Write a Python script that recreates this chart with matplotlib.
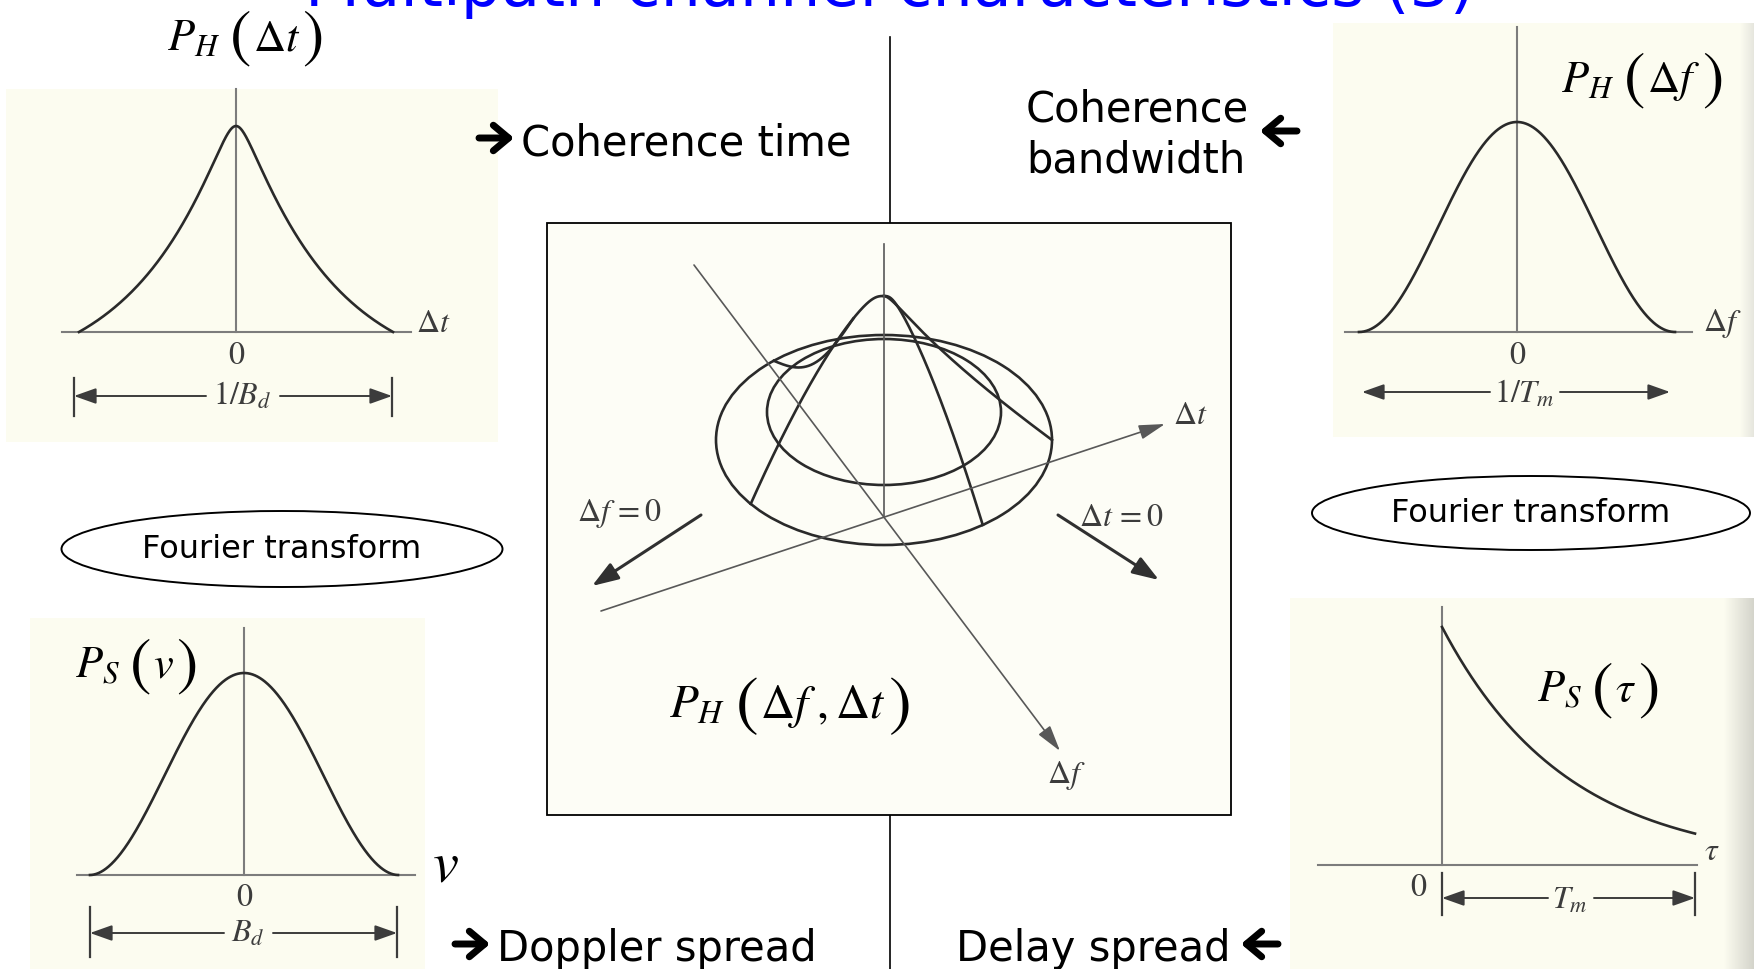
import numpy as np
import matplotlib
matplotlib.use("Agg")
import matplotlib.pyplot as plt
from matplotlib.patches import Ellipse, Rectangle
from matplotlib.colors import LinearSegmentedColormap

plt.rcParams["mathtext.fontset"] = "stix"
plt.rcParams["font.family"] = ["DejaVu Sans"]

# ---- text content ---------------------------------------------------------
TITLE = "Multipath channel characteristics (3)"
HEADINGS = ["Coherence time", "Coherence", "bandwidth", "Doppler spread", "Delay spread"]
TRANSFORM_TEXT = "Fourier transform"
SPREAD_LABELS = [r"$1/B_d$", r"$1/T_m$", r"$B_d$", r"$T_m$"]
FUNC_SUBS = ["H", "H", "S", "S", "H"]
FUNC_ARGS = [r"$\Delta t$", r"$\Delta f$", r"$v$", r"$\tau$", r"$\Delta f\;,\Delta t$"]
CENTER_LABELS = [r"$\Delta t$", r"$\Delta f$", r"$\Delta f\,=0$", r"$\Delta t\,=0$"]

# ---- curve shapes (normalised: spread edge at |x| = 1, peak value = 1) ------
time_corr_decay = 0.58      # spaced-time correlation  ~ exp(-|x| / a)
time_corr_tip = 0.07        # rounding of its peak
freq_corr_power = 2.0       # spaced-frequency correlation ~ cos(pi x / 2)^n
doppler_power = 1.9         # Doppler power spectrum ~ cos(pi x / 2)^n
delay_decay = 0.494         # power delay profile ~ exp(-x / d), x in units of T_m

# ---- scattering function sketch (pixel geometry of the 3-D view) -----------
hat_x, rim_y, rim_a, rim_b, hat_height = 884, 440, 168, 105, 144
inner_y, inner_a, inner_b = 412, 117, 73
hat_round = 0.08                          # rounding of the summit profile
summit_blend = 0.12                       # flattening of the view tilt at the summit
meridian_angles = [142.5, 54.0, 0.0]      # degrees round the rim
meridian_powers = [1.5, 1.5, 0.8]         # profile 1 - u^p

W, H = 1754, 969
fig = plt.figure(figsize=(W / 100, H / 100), dpi=100)
fig.patch.set_facecolor("white")
ax = fig.add_axes([0, 0, 1, 1])
ax.set_xlim(0, W)
ax.set_ylim(H, 0)
ax.axis("off")
renderer = fig.canvas.get_renderer()

PAPER = "#fcfcf0"
INK = "#2a2a2a"
GREY = "#7c7c7c"
SOFT = "#3c3c3c"
BLUE = "#0000ff"

# scanned page backgrounds behind the four small plots
for x0, x1, y0, y1 in [(6, 498, 89, 442), (1333, 1754, 23, 437),
                       (30, 425, 618, 969), (1290, 1754, 598, 969)]:
    ax.add_patch(Rectangle((x0, y0), x1 - x0, y1 - y0, facecolor=PAPER,
                           edgecolor="none", zorder=0))
edge = LinearSegmentedColormap.from_list("edge", [PAPER, "#d4d4cb"])
ax.imshow(np.linspace(0, 1, 64)[None, :], extent=(1724, 1754, 969, 598),
          cmap=edge, aspect="auto", zorder=0.5)
ax.imshow(np.linspace(0, 1, 64)[None, :], extent=(1740, 1754, 437, 23),
          cmap=LinearSegmentedColormap.from_list("edge2", [PAPER, "#e6e6de"]),
          aspect="auto", zorder=0.5)
ax.set_xlim(0, W)
ax.set_ylim(H, 0)

# title (runs off the top edge)
title = ax.text(305, 6, TITLE, color=BLUE, fontsize=46, va="baseline", ha="left")
tw = title.get_window_extent(renderer).width
title.set_fontsize(46 * 1168 / tw)

# divider
ax.plot([890, 890], [37, 223], color="black", lw=1.2, zorder=1)
ax.plot([890, 890], [815, 969], color="black", lw=1.2, zorder=1)


def heavy_arrow(x_tail, x_head, y):
    ax.annotate("", xy=(x_head, y), xytext=(x_tail, y),
                arrowprops=dict(arrowstyle="->,head_length=0.55,head_width=0.46",
                                color="black", lw=5.0, shrinkA=0, shrinkB=0,
                                mutation_scale=20))


heading_size = 30
ax.text(521, 155, HEADINGS[0], fontsize=heading_size, va="baseline", ha="left")
heavy_arrow(479, 514, 138)
ax.text(1026, 121, HEADINGS[1], fontsize=heading_size, va="baseline", ha="left")
ax.text(1026, 172, HEADINGS[2], fontsize=heading_size, va="baseline", ha="left")
heavy_arrow(1297, 1260, 131)
ax.text(497, 961, HEADINGS[3], fontsize=heading_size, va="baseline", ha="left")
heavy_arrow(455, 490, 944)
ax.text(956, 961, HEADINGS[4], fontsize=heading_size, va="baseline", ha="left")
heavy_arrow(1278, 1241, 944)

# Fourier transform ovals
for cx, cy, w, h in [(282, 549, 441, 76), (1531, 513, 438, 74)]:
    ax.add_patch(Ellipse((cx, cy), w, h, fill=False, edgecolor="black", lw=1.4, zorder=2))
    ax.text(cx, cy + 1, TRANSFORM_TEXT, fontsize=23, ha="center", va="center")


def panel(ox, oy, sx, sy, x_left, x_right, y_top):
    """Axes whose data origin sits at pixel (ox, oy), sx/sy pixels per unit."""
    a = fig.add_axes([x_left / W, 1 - oy / H, (x_right - x_left) / W, (oy - y_top) / H])
    a.set_xlim((x_left - ox) / sx, (x_right - ox) / sx)
    a.set_ylim(0, (oy - y_top) / sy)
    a.axis("off")
    a.plot(a.get_xlim(), [0, 0], color=GREY, lw=1.5, clip_on=False, zorder=1)
    a.plot([0, 0], a.get_ylim(), color=GREY, lw=1.5, clip_on=False, zorder=1)
    return a


x_sym = np.linspace(-1, 1, 501)

# spaced-time correlation
a_tl = panel(236, 332, 157, 206, 62, 411, 89)
r = np.sqrt(x_sym ** 2 + time_corr_tip ** 2) - time_corr_tip
r_end = np.sqrt(1 + time_corr_tip ** 2) - time_corr_tip
y_end = np.exp(-r_end / time_corr_decay)
a_tl.plot(x_sym, (np.exp(-r / time_corr_decay) - y_end) / (1 - y_end),
          color=INK, lw=1.9, clip_on=False, zorder=2)

# spaced-frequency correlation
a_tr = panel(1517, 332, 158, 210, 1345, 1692, 27)
a_tr.plot(x_sym, np.cos(np.pi * x_sym / 2) ** freq_corr_power,
          color=INK, lw=1.9, clip_on=False, zorder=2)

# Doppler power spectrum
a_bl = panel(244, 875, 154, 202, 77, 415, 628)
a_bl.plot(x_sym, np.cos(np.pi * x_sym / 2) ** doppler_power,
          color=INK, lw=1.9, clip_on=False, zorder=2)

# power delay profile
a_br = panel(1442, 865, 253, 238, 1318, 1697, 607)
x_delay = np.linspace(0, 1, 300)
a_br.plot(x_delay, np.exp(-x_delay / delay_decay), color=INK, lw=1.9,
          clip_on=False, zorder=2)


def dim_arrow(x_from, x_to, y):
    ax.annotate("", xy=(x_to, y), xytext=(x_from, y),
                arrowprops=dict(arrowstyle="-|>,head_length=0.9,head_width=0.32",
                                color=SOFT, lw=1.4, shrinkA=0, shrinkB=0,
                                mutation_scale=15))


def tick(x, y0, y1):
    ax.plot([x, x], [y0, y1], color=SOFT, lw=1.6)


small = dict(fontsize=23, color=SOFT, ha="center", va="center")

# labels of the spaced-time correlation
ax.text(236, 356, "0", family="STIXGeneral", **small)
ax.text(433, 324, CENTER_LABELS[0], **small)
ax.text(242, 396, SPREAD_LABELS[0], **small)
dim_arrow(206, 74, 396)
dim_arrow(280, 392, 396)
tick(74, 378, 416)
tick(392, 378, 416)

# labels of the spaced-frequency correlation
ax.text(1517, 356, "0", family="STIXGeneral", **small)
ax.text(1722, 324, CENTER_LABELS[1], **small)
ax.text(1524, 394, SPREAD_LABELS[1], **small)
dim_arrow(1490, 1362, 392)
dim_arrow(1560, 1670, 392)

# labels of the Doppler spectrum
ax.text(244, 898, "0", family="STIXGeneral", **small)
ax.text(248, 933, SPREAD_LABELS[2], **small)
dim_arrow(224, 90, 933)
dim_arrow(273, 397, 933)
tick(90, 907, 957)
tick(397, 907, 957)
ax.text(445, 882, r"$v$", fontsize=42, ha="center", va="baseline")

# labels of the delay profile
ax.text(1418, 888, "0", family="STIXGeneral", **small)
ax.text(1712, 852, r"$\tau$", **small)
ax.text(1570, 900, SPREAD_LABELS[3], **small)
dim_arrow(1548, 1442, 898)
dim_arrow(1594, 1695, 898)
tick(1442, 873, 915)
tick(1695, 873, 915)


def func_label(cx, baseline, sub, arg, size, paren_scale=1.45):
    """P_sub( arg ) with enlarged parentheses, centred on cx."""
    drop = 0.1 * size * 100 / 72
    parts = [(r"$P_{%s}$" % sub, size, 0.0, None, 0.0),
             ("(", size * paren_scale, 0.22, "STIXGeneral", drop),
             (arg, size, 0.04, None, 0.0),
             (")", size * paren_scale, 0.05, "STIXGeneral", drop)]
    placed, x = [], 0.0
    for s, fs, gap, fam, dy in parts:
        x += gap * size * 100 / 72
        kw = dict(fontsize=fs, va="baseline", ha="left", color="black", zorder=5)
        if fam:
            kw["family"] = fam
        t = ax.text(x, baseline + dy, s, **kw)
        placed.append(t)
        x += t.get_window_extent(renderer).width
    shift = cx - x / 2
    for t in placed:
        px, py = t.get_position()
        t.set_position((px + shift, py))


func_label(245, 50, FUNC_SUBS[0], FUNC_ARGS[0], 32)
func_label(1642, 92, FUNC_SUBS[1], FUNC_ARGS[1], 32)
func_label(136, 678, FUNC_SUBS[2], FUNC_ARGS[2], 32)
func_label(1598, 702, FUNC_SUBS[3], FUNC_ARGS[3], 32)

# ---- scattering-function sketch --------------------------------------------
ax.add_patch(Rectangle((547, 223), 684, 592, facecolor="#fdfdf6",
                       edgecolor="black", lw=1.3, zorder=2))
func_label(790, 718, FUNC_SUBS[4], FUNC_ARGS[4], 34)

hat = dict(color=INK, lw=1.9, zorder=3)
ax.add_patch(Ellipse((hat_x, rim_y), 2 * rim_a, 2 * rim_b, fill=False,
                     edgecolor=INK, lw=1.9, zorder=3))
ax.add_patch(Ellipse((hat_x, inner_y), 2 * inner_a, 2 * inner_b, fill=False,
                     edgecolor=INK, lw=1.9, zorder=3))


def hat_profile(rho, p):
    u = (np.sqrt(rho ** 2 + hat_round ** 2) - hat_round) / (np.sqrt(1 + hat_round ** 2) - hat_round)
    return hat_height * (1 - u ** p)


def meridian(rho, ang, p):
    th = np.deg2rad(ang)
    tilt = rho ** 3 / (rho ** 2 + summit_blend ** 2)
    tilt = tilt / (1 / (1 + summit_blend ** 2))
    return (hat_x + rho * rim_a * np.cos(th),
            rim_y + tilt * rim_b * np.sin(th) - hat_profile(rho, p))


rho = np.linspace(0, 1, 400)
for ang, p in zip(meridian_angles, meridian_powers):
    mx, my = meridian(rho, ang, p)
    ax.plot(mx, my, **hat)

# far-side cross-section curling down to the rim
jx, jy = meridian(np.array(0.23), meridian_angles[0], meridian_powers[0])
th_far = np.deg2rad(229.0)
ex = hat_x + rim_a * np.cos(th_far)
ey = rim_y + rim_b * np.sin(th_far)
s = np.linspace(0, 1, 200)
ax.plot(jx + (ex - jx) * s, jy + (ey - jy) * s + 24 * np.sin(np.pi * s), **hat)

# axes of the sketch
axis_kw = dict(arrowstyle="-|>,head_length=1.0,head_width=0.28", color="#585858",
               lw=1.2, shrinkA=0, shrinkB=0, mutation_scale=16)
ax.plot([hat_x, hat_x], [244, 516], color="#585858", lw=1.2, zorder=3)
ax.annotate("", xy=(1165, 424), xytext=(601, 611), arrowprops=axis_kw, zorder=3)
ax.annotate("", xy=(1060, 751), xytext=(694, 265), arrowprops=axis_kw, zorder=3)
cut_kw = dict(arrowstyle="-|>,head_length=1.0,head_width=0.35", color="#303030",
              lw=2.2, shrinkA=0, shrinkB=0, mutation_scale=16)
ax.annotate("", xy=(592, 586), xytext=(701, 515), arrowprops=cut_kw, zorder=3)
ax.annotate("", xy=(1159, 580), xytext=(1058, 515), arrowprops=cut_kw, zorder=3)

ax.text(1190, 416, CENTER_LABELS[0], **small)
ax.text(1066, 776, CENTER_LABELS[1], **small)
ax.text(619, 513, CENTER_LABELS[2], **small)
ax.text(1121, 517, CENTER_LABELS[3], **small)

fig.savefig("out.png", dpi=100, facecolor="white")
